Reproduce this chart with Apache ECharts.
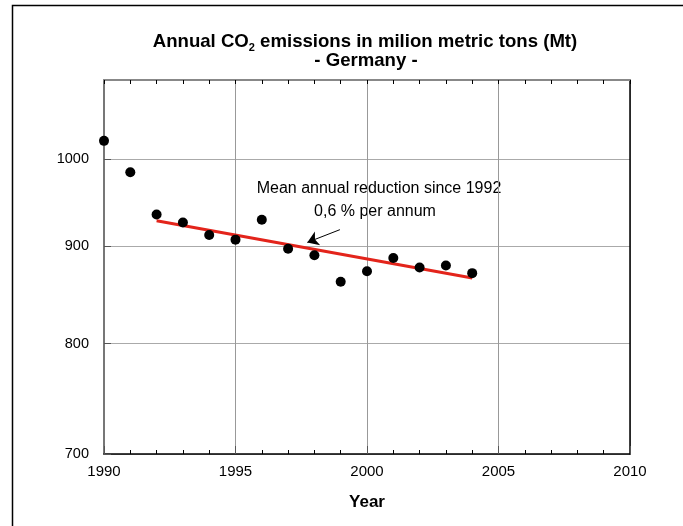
<!DOCTYPE html>
<html><head><meta charset="utf-8">
<script src="https://cdn.jsdelivr.net/npm/echarts@6/dist/echarts.min.js"></script>
<style>html,body{margin:0;padding:0;background:#fff}#c{width:683px;height:526px}</style>
</head><body><div id="c"></div>
<script>
const years = [1990,1991,1992,1993,1994,1995,1996,1997,1998,1999,2000,2001,2002,2003,2004];
const emissions = [1022,984,935,926,912,907,929,897,890,862,873,887,877,879,871];
const trendYears = [1992, 2004];
const trendValues = [928, 866];
const yTickValues = [700, 800, 900, 1000];
const arrowFrom = [1998.97, 918];
const arrowTo = [1997.73, 904];
const titleMain = ['Annual CO', '2', ' emissions in milion metric tons (Mt)'];
const titleSub = '- Germany -';
const noteLine1 = 'Mean annual reduction since 1992';
const noteLine2 = '0,6 % per annum';

const FONT = '"Liberation Sans", Arial, Helvetica, sans-serif';
const chart = echarts.init(document.getElementById('c'));
chart.setOption({
  animation: false,
  backgroundColor: '#fff',
  textStyle: { fontFamily: FONT },
  grid: { left: 104, right: 53, top: 80, bottom: 72 },
  graphic: [
    { type: 'rect', shape: { x: 12.5, y: 5.5, width: 720, height: 600 }, style: { fill: 'none', stroke: '#000', lineWidth: 1.5 }, silent: true, z: -1 },
    { type: 'text', x: 365, y: 42, style: {
        text: '{a|' + titleMain[0] + '}{s|' + titleMain[1] + '}{a|' + titleMain[2] + '}',
        align: 'center', verticalAlign: 'middle',
        rich: {
          a: { fontSize: 18.6, fontWeight: 'bold', fill: '#000', fontFamily: FONT, lineHeight: 21 },
          s: { fontSize: 11, fontWeight: 'bold', fill: '#000', fontFamily: FONT, padding: [11, 0, 0, 0], lineHeight: 21 }
        } } },
    { type: 'text', x: 366, y: 61, style: { text: titleSub, font: 'bold 18.6px ' + FONT, fill: '#000', align: 'center', verticalAlign: 'middle' } },
    { type: 'text', x: 379, y: 189, style: { text: noteLine1, font: '16px ' + FONT, fill: '#000', align: 'center', verticalAlign: 'middle' } },
    { type: 'text', x: 375, y: 212, style: { text: noteLine2, font: '16px ' + FONT, fill: '#000', align: 'center', verticalAlign: 'middle' } }
  ],
  xAxis: [{
    type: 'value', min: 1990, max: 2010, interval: 5,
    name: 'Year', nameLocation: 'middle', nameGap: 40,
    nameTextStyle: { fontSize: 17, fontWeight: 'bold', color: '#000', fontFamily: FONT },
    axisLine: { lineStyle: { color: '#000', width: 1.5 } },
    axisTick: { show: true, inside: true, length: 8, lineStyle: { color: '#555' } },
    minorTick: { show: true, splitNumber: 5, length: 4, lineStyle: { color: '#000' } },
    axisLabel: { fontSize: 15, color: '#000', margin: 10, fontFamily: FONT, formatter: v => String(v) },
    splitLine: { show: true, lineStyle: { color: '#999', width: 1 } }
  }, {
    type: 'value', min: 1990, max: 2010, interval: 5, position: 'top',
    axisLine: { lineStyle: { color: '#888', width: 2 } },
    axisTick: { show: true, inside: true, length: 4, lineStyle: { color: '#000' } },
    minorTick: { show: true, splitNumber: 5, length: 4, lineStyle: { color: '#000' } },
    axisLabel: { show: false },
    splitLine: { show: false }
  }],
  yAxis: [{
    type: 'log', min: 700, max: 1100,
    axisLine: { show: true, lineStyle: { color: '#777', width: 2 } },
    axisTick: { show: true, inside: true, length: 7, customValues: yTickValues, lineStyle: { color: '#555' } },
    axisLabel: { fontSize: 14.5, color: '#000', margin: 15, fontFamily: FONT, customValues: yTickValues, formatter: v => String(Math.round(v)) },
    splitLine: { show: true, lineStyle: { color: '#aaa', width: 1 } }
  }, {
    type: 'log', min: 700, max: 1100, position: 'right',
    axisLine: { show: true, lineStyle: { color: '#000', width: 1.5 } },
    axisTick: { show: false }, axisLabel: { show: false }, splitLine: { show: false }
  }],
  series: [{
    type: 'line',
    data: trendYears.map((y, i) => [y, trendValues[i]]),
    symbol: 'none',
    lineStyle: { color: '#e3241b', width: 3 },
    z: 2,
    markLine: {
      silent: true, symbol: ['none', 'arrow'], symbolSize: 11,
      label: { show: false },
      lineStyle: { color: '#000', width: 1, type: 'solid' },
      data: [[{ coord: arrowFrom }, { coord: arrowTo }]]
    }
  }, {
    type: 'scatter',
    data: years.map((y, i) => [y, emissions[i]]),
    symbol: 'circle', symbolSize: 10,
    itemStyle: { color: '#000', opacity: 1 },
    z: 3
  }]
});
</script></body></html>
